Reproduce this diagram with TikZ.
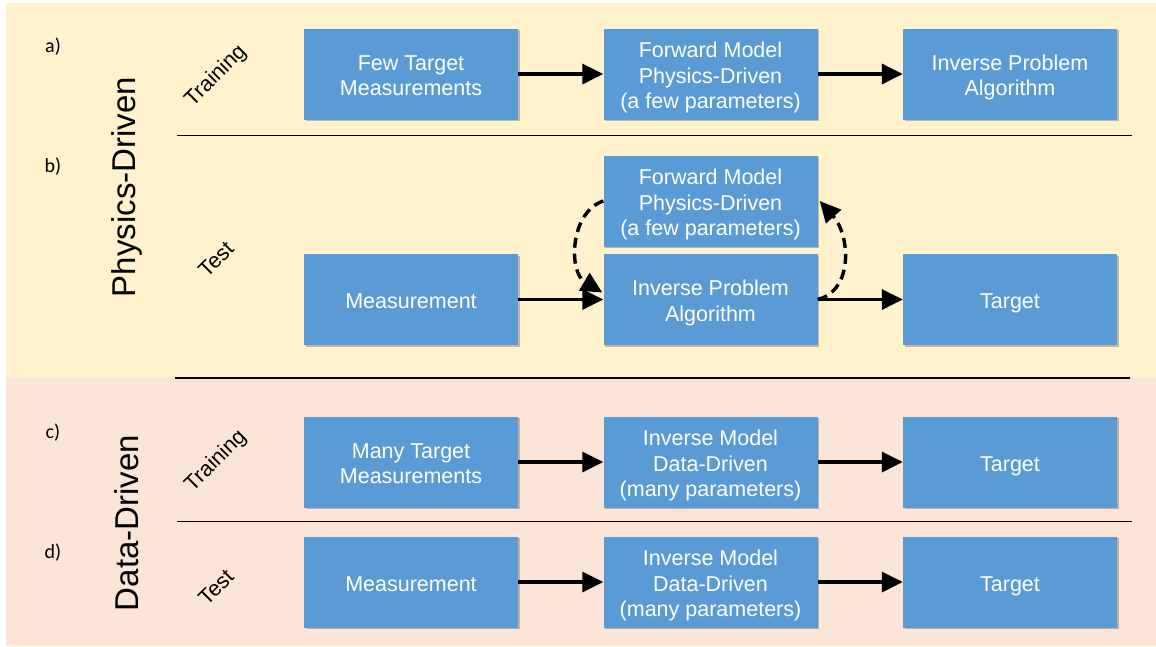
\documentclass[tikz,border=0pt]{standalone}
\usepackage{fontspec}
\setmainfont{Liberation Sans}
\newfontfamily\calfont{Carlito}
\usetikzlibrary{arrows.meta,shadows,calc}
\definecolor{bgyellow}{HTML}{FFF2CC}
\definecolor{bgpink}{HTML}{FBE5D6}
\definecolor{boxblue}{HTML}{5B9BD5}
\newsavebox\bxsave
\newcommand\boxtxt[1]{\sbox\bxsave{\begin{tabular}{@{}c@{}}#1\end{tabular}}\raisebox{-4pt}[\ht\bxsave][\dp\bxsave]{\usebox\bxsave}}
\tikzset{
  blockbox/.style={rectangle, fill=boxblue, text=white, minimum width=214pt, minimum height=91pt,
    inner sep=0pt, font=\fontsize{21.5}{25.5}\selectfont,
    drop shadow={shadow xshift=1.6pt, shadow yshift=-1.6pt, opacity=0.35, fill=black!70}},
  flowarrow/.style={line width=3.4pt, -{Triangle[length=21pt,width=20pt]}},
  loopflow/.style={line width=3.4pt, dash pattern=on 10pt off 6pt, -{Triangle[length=21pt,width=20pt]}},
  sepline/.style={line width=1.5pt},
  rowlabel/.style={font=\calfont\fontsize{20}{24}\selectfont},
  phaselabel/.style={rotate=45, font=\fontsize{21.5}{25}\selectfont},
  grouplabel/.style={rotate=90, font=\fontsize{33}{38}\selectfont}
}
\begin{document}
\begin{tikzpicture}[x=1pt,y=-1pt]
\useasboundingbox (0,0) rectangle (1156,646);
\fill[white] (0,0) rectangle (1156,646);
\fill[bgyellow] (6,3) rectangle (1156,378);
\fill[bgpink] (6,378) rectangle (1156,646);

% separator lines
\draw[sepline] (177,135.5) -- (1132,135.5);
\draw[sepline] (175,378) -- (1130,378);
\draw[sepline] (177,521.5) -- (1132,521.5);

% row labels
\node[rowlabel] (la) at (53,47) {a)};
\node[rowlabel] (lb) at (53,167) {b)};
\node[rowlabel] (lc) at (53,433) {c)};
\node[rowlabel] (ld) at (53,553) {d)};

% group labels
\node[grouplabel] (gphys) at (127,187) {Physics-Driven};
\node[grouplabel] (gdata) at (127,523) {Data-Driven};

% phase labels
\node[phaselabel] (pa) at (216,76) {Training};
\node[phaselabel] (pb) at (216,259) {Test};
\node[phaselabel] (pc) at (216,461) {Training};
\node[phaselabel] (pd) at (216,587) {Test};

% row a
\node[blockbox] (a1) at (411,74) {\boxtxt{Few Target\\Measurements}};
\node[blockbox] (a2) at (710.5,74) {\boxtxt{Forward Model\\Physics-Driven\\(a few parameters)}};
\node[blockbox] (a3) at (1010,74) {\boxtxt{Inverse Problem\\Algorithm}};
\draw[flowarrow] (a1) -- (a2);
\draw[flowarrow] (a2) -- (a3);

% row b
\node[blockbox] (fm) at (710.5,201) {\boxtxt{Forward Model\\Physics-Driven\\(a few parameters)}};
\node[blockbox] (b1) at (411,299.5) {\boxtxt{Measurement}};
\node[blockbox] (ipa) at (710.5,299.5) {\boxtxt{Inverse Problem\\Algorithm}};
\node[blockbox] (b3) at (1010,299.5) {\boxtxt{Target}};
\draw[flowarrow] (b1) -- (ipa);
\draw[flowarrow] (ipa) -- (b3);
\draw[loopflow] (fm.west) .. controls (570,212) and (568,272) .. ($(ipa.west)+(-1,-7)$);
\draw[loopflow] (ipa.east) .. controls (854,290) and (850,235) .. ($(fm.east)+(2,0)$);

% row c
\node[blockbox] (c1) at (411,462) {\boxtxt{Many Target\\Measurements}};
\node[blockbox] (c2) at (710.5,462) {\boxtxt{Inverse Model\\Data-Driven\\(many parameters)}};
\node[blockbox] (c3) at (1010,462) {\boxtxt{Target}};
\draw[flowarrow] (c1) -- (c2);
\draw[flowarrow] (c2) -- (c3);

% row d
\node[blockbox] (d1) at (411,582) {\boxtxt{Measurement}};
\node[blockbox] (d2) at (710.5,582) {\boxtxt{Inverse Model\\Data-Driven\\(many parameters)}};
\node[blockbox] (d3) at (1010,582) {\boxtxt{Target}};
\draw[flowarrow] (d1) -- (d2);
\draw[flowarrow] (d2) -- (d3);
\end{tikzpicture}
\end{document}
